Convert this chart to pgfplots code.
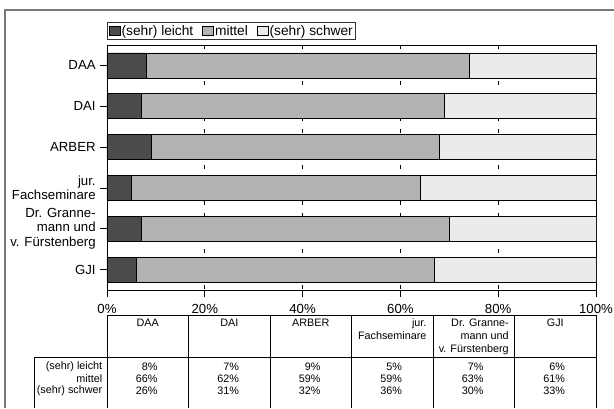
\documentclass[border=0pt]{standalone}
\usepackage{fontspec}
\setmainfont{Liberation Sans}
\usepackage{pgfplots}
\usepackage{pgfplotstable}
\pgfplotsset{compat=1.18}

\definecolor{cLeicht}{RGB}{77,75,73}
\definecolor{cMittel}{RGB}{179,179,179}
\definecolor{cSchwer}{RGB}{235,235,235}
\definecolor{frame}{RGB}{120,120,120}

% Anteile in Prozent, je Anbieter
\pgfplotstableread{
pos leicht mittel schwer
0   8      66     26
1   7      62     31
2   9      59     32
3   5      59     36
4   7      63     30
5   6      61     33
}\bewertung

\begin{document}
\begin{tikzpicture}[x=0.75pt,y=0.75pt]
\useasboundingbox (0,0) rectangle (614,408);
\draw[frame, line width=1.1pt] (5,0) -- (5,398) -- (614,398);
\coordinate (origin) at (107,118);

\begin{axis}[
    at={(origin)}, anchor=south west, scale only axis,
    width=366.75pt, height=183.75pt,
    xbar stacked, bar width=0.61,
    xmin=0, xmax=100, ymin=-0.5, ymax=5.5, y dir=reverse,
    xtick={0,20,40,60,80,100},
    xticklabels={0\%,20\%,40\%,60\%,80\%,100\%},
    ytick={0,1,2,3,4,5},
    yticklabels={DAA,DAI,ARBER,{jur.\\Fachseminare},{Dr. Granne-\\mann und\\v. Fürstenberg},GJI},
    tick align=outside, xtick pos=bottom, ytick pos=left,
    major tick length=5pt,
    tick style={black, line width=0.6pt},
    xmajorgrids,
    grid style={black, line width=0.5pt, dash pattern=on 3pt off 6pt},
    axis line style={black, line width=0.6pt},
    yticklabel style={align=right, font=\fontsize{9.9}{11}\selectfont},
    xticklabel style={font=\fontsize{9.9}{11}\selectfont, yshift=-2.5pt},
    legend style={at={(0,1)}, anchor=south west, yshift=3.75pt,
        legend columns=-1, draw=black!80, line width=0.5pt,
        font=\fontsize{10.3}{11}\selectfont, inner sep=1.2pt,
        nodes={inner sep=0.8pt},
        /tikz/every even column/.append style={column sep=6pt}},
    legend image code/.code={\draw[#1] (0pt,-3.2pt) rectangle (8.2pt,3.2pt);},
]
\addplot[fill=cLeicht, draw=black, line width=0.5pt] table[x=leicht, y=pos] {\bewertung};
\addplot[fill=cMittel, draw=black, line width=0.5pt] table[x=mittel, y=pos] {\bewertung};
\addplot[fill=cSchwer, draw=black, line width=0.5pt] table[x=schwer, y=pos] {\bewertung};
\legend{(sehr) leicht, mittel, (sehr) schwer}
\end{axis}

% Datentabelle
\begin{scope}[line width=0.6pt, black]
\draw (107,93) -- (596,93);
\foreach \i in {0,...,6} \draw (107+\i*81.5,93) -- (107+\i*81.5,0);
\draw (34,51) -- (596,51);
\draw (34,51) -- (34,0);
\end{scope}

\begin{scope}[every node/.style={inner sep=0pt, font=\fontsize{8.1}{10}\selectfont}]
\node[anchor=north, align=center] at (147.75,89.5) {DAA};
\node[anchor=north, align=center] at (229.25,89.5) {DAI};
\node[anchor=north, align=center] at (310.75,89.5) {ARBER};
\node[anchor=north, align=right] at (392.25,89.5) {jur.\\Fachseminare};
\node[anchor=north, align=right] at (473.75,89.5) {Dr. Granne-\\mann und\\v. Fürstenberg};
\node[anchor=north, align=center] at (555.25,89.5) {GJI};

\node[anchor=east] at (102.5,41.5) {(sehr) leicht};
\node[anchor=east] at (102.5,29.5) {mittel};
\node[anchor=east] at (102.5,17) {(sehr) schwer};

\foreach \c/\a/\b [count=\k from 0] in {8/66/26, 7/62/31, 9/59/32, 5/59/36, 7/63/30, 6/61/33}{
  \node[anchor=east] at (157.75+\k*81.5,41.5) {\c\%};
  \node[anchor=east] at (157.75+\k*81.5,29.5) {\a\%};
  \node[anchor=east] at (157.75+\k*81.5,17) {\b\%};
}
\end{scope}
\end{tikzpicture}
\end{document}
